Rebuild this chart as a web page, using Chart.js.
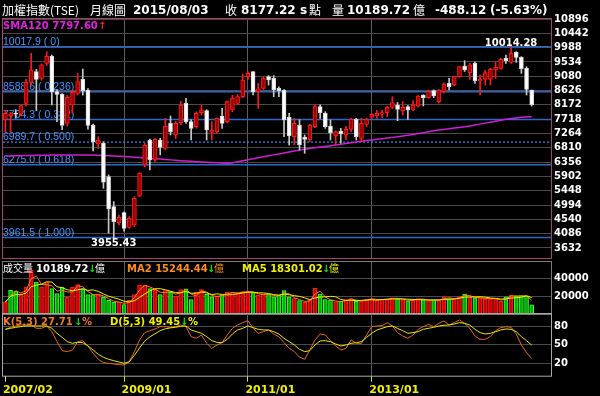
<!DOCTYPE html>
<html>
<head>
<meta charset="utf-8">
<title>加權指數 月線圖</title>
<script src="https://cdn.jsdelivr.net/npm/chart.js@4.4.1/dist/chart.umd.min.js"></script>
<style>
  html, body { margin: 0; padding: 0; background: #000; }
  #box { position: relative; width: 600px; height: 396px; background: #000; overflow: hidden; }
  #box canvas { position: absolute; left: 0; }
  .t { position: absolute; white-space: nowrap; line-height: 1; font-family: 'DejaVu Sans', sans-serif; }
  .b { font-weight: bold; }
  .cjk { font-family: 'Noto Sans CJK TC', sans-serif; }
</style>
</head>
<body>
<div id="box">
  <canvas id="main" width="600" height="270" style="top:0"></canvas>
  <canvas id="vol" width="600" height="74" style="top:250px"></canvas>
  <canvas id="kd" width="600" height="94" style="top:302px"></canvas>

  <span class="t cjk" style="left:2px;top:4px;font-size:12px;color:#fff">加權指數(TSE)</span>
  <span class="t cjk" style="left:90px;top:4px;font-size:12px;color:#fff">月線圖</span>
  <span class="t b" style="left:133px;top:4px;font-size:12px;color:#fff">2015/08/03</span>
  <span class="t cjk" style="left:225px;top:4px;font-size:12px;color:#fff">收</span>
  <span class="t b" style="left:241px;top:4px;font-size:12px;color:#fff">8177.22</span>
  <span class="t b" style="left:300px;top:4px;font-size:12px;color:#fff">s</span>
  <span class="t cjk" style="left:309px;top:4px;font-size:12px;color:#fff">點</span>
  <span class="t cjk" style="left:332px;top:4px;font-size:12px;color:#fff">量</span>
  <span class="t b" style="left:347px;top:4px;font-size:12px;color:#fff">10189.72</span>
  <span class="t cjk" style="left:413px;top:4px;font-size:12px;color:#fff">億</span>
  <span class="t b" style="left:435px;top:4px;font-size:12px;color:#fff">-488.12</span>
  <span class="t b" style="left:490px;top:4px;font-size:12px;color:#fff">(-5.63%)</span>

  <span class="t b" style="left:3px;top:21px;font-size:10px;color:#e020e0">SMA120 7797.60</span>
  <span class="t b" style="left:98px;top:21px;font-size:10px;color:#ff2020">↑</span>

  <span class="t cjk" style="left:3px;top:263px;font-size:10px;color:#fff">成交量</span>
  <span class="t b" style="left:36px;top:264px;font-size:10px;color:#fff">10189.72</span>
  <span class="t b" style="left:88px;top:264px;font-size:10px;color:#10e010">↓</span>
  <span class="t cjk" style="left:95px;top:263px;font-size:10px;color:#fff">億</span>
  <span class="t b" style="left:127px;top:264px;font-size:10px;color:#ff8c1a">MA2 15244.44</span>
  <span class="t b" style="left:207px;top:264px;font-size:10px;color:#10e010">↓</span>
  <span class="t cjk" style="left:214px;top:263px;font-size:10px;color:#ff8c1a">億</span>
  <span class="t b" style="left:242px;top:264px;font-size:10px;color:#f0f000">MA5 18301.02</span>
  <span class="t b" style="left:322px;top:264px;font-size:10px;color:#10e010">↓</span>
  <span class="t cjk" style="left:329px;top:263px;font-size:10px;color:#f0f000">億</span>

  <span class="t b" style="left:3px;top:317px;font-size:10px;color:#f07828">K(5,3) 27.71</span>
  <span class="t b" style="left:74px;top:317px;font-size:10px;color:#10e010">↓</span>
  <span class="t b" style="left:82px;top:317px;font-size:10px;color:#f07828">%</span>
  <span class="t b" style="left:110px;top:317px;font-size:10px;color:#f0f000">D(5,3) 49.45</span>
  <span class="t b" style="left:180px;top:317px;font-size:10px;color:#10e010">↓</span>
  <span class="t b" style="left:188px;top:317px;font-size:10px;color:#f0f000">%</span>
</div>

<script>
// monthly candles 2007/02 - 2015/08
const months = [
  '2007/02','2007/03','2007/04','2007/05','2007/06','2007/07','2007/08','2007/09','2007/10','2007/11','2007/12',
  '2008/01','2008/02','2008/03','2008/04','2008/05','2008/06','2008/07','2008/08','2008/09','2008/10','2008/11','2008/12',
  '2009/01','2009/02','2009/03','2009/04','2009/05','2009/06','2009/07','2009/08','2009/09','2009/10','2009/11','2009/12',
  '2010/01','2010/02','2010/03','2010/04','2010/05','2010/06','2010/07','2010/08','2010/09','2010/10','2010/11','2010/12',
  '2011/01','2011/02','2011/03','2011/04','2011/05','2011/06','2011/07','2011/08','2011/09','2011/10','2011/11','2011/12',
  '2012/01','2012/02','2012/03','2012/04','2012/05','2012/06','2012/07','2012/08','2012/09','2012/10','2012/11','2012/12',
  '2013/01','2013/02','2013/03','2013/04','2013/05','2013/06','2013/07','2013/08','2013/09','2013/10','2013/11','2013/12',
  '2014/01','2014/02','2014/03','2014/04','2014/05','2014/06','2014/07','2014/08','2014/09','2014/10','2014/11','2014/12',
  '2015/01','2015/02','2015/03','2015/04','2015/05','2015/06','2015/07','2015/08'
];

const opens = [
  7700, 7820, 7905, 7875, 8220, 8883, 9230, 9010, 9490, 9711,
  8590, 8506, 7586, 8167, 8537, 8982, 8643, 7533, 6930, 6951,
  5893, 4941, 4434, 4751, 4286, 4360, 5280, 6264, 7057, 6422,
  7057, 6792, 7586, 7216, 7607, 8220, 7639, 7480, 7924, 7987,
  7300, 7321, 7818, 7639, 8009, 8220, 8432, 9066, 9225, 8590,
  8696, 9066, 9013, 8700, 8643, 7776, 7162, 7533, 7141, 7057,
  7480, 8114, 7903, 7501, 7184, 7342, 7215, 7395, 7712, 7110,
  7554, 7776, 7818, 7880, 7924, 8093, 8167, 7987, 8114, 8009,
  8136, 8484, 8400, 8622, 8273, 8590, 8855, 8802, 9066, 9405,
  9193, 9489, 8939, 8982, 8982, 9278, 9331, 9648, 9521, 9838,
  9680, 9331, 8643
];
const highs = [
  7999, 7935, 8020, 8180, 8980, 9807, 9300, 9470, 9859, 9750,
  8650, 8528, 8475, 8643, 9172, 9309, 8690, 7560, 7163, 7000,
  5950, 5100, 4677, 4780, 4625, 5260, 6020, 6950, 7084, 7110,
  7110, 7744, 7818, 7650, 8273, 8379, 7700, 7950, 8170, 8020,
  7640, 7760, 8060, 8300, 8480, 8500, 9150, 9220, 9230, 8855,
  9060, 9100, 9100, 8740, 8660, 7903, 7744, 7700, 7215, 7560,
  8170, 8170, 7956, 7691, 7350, 7427, 7490, 7744, 7744, 7744,
  7744, 7903, 8000, 8000, 8130, 8431, 8250, 8273, 8150, 8305,
  8470, 8495, 8640, 8650, 8660, 8870, 9013, 9080, 9400, 9574,
  9489, 9540, 9119, 9270, 9331, 9521, 9650, 9754, 10014.28, 9860,
  9701, 9384, 8643
];
const lows = [
  7306, 7320, 7750, 7820, 8140, 8800, 7986, 8950, 9420, 8167,
  7640, 7384, 7500, 7903, 8480, 8480, 7400, 6708, 6793, 5523,
  4096, 3955.43, 4360, 4164, 4254, 4308, 5260, 6200, 6105, 6370,
  6581, 6740, 7216, 7100, 7540, 7580, 7057, 7430, 7850, 7057,
  7057, 7280, 7427, 7600, 7950, 8180, 8400, 8980, 8485, 8062,
  8660, 8800, 8430, 8430, 7162, 6898, 6898, 6739, 6634, 7000,
  7450, 7744, 7427, 7057, 6898, 6951, 7057, 7320, 7057, 7004,
  7480, 7744, 7744, 7760, 7800, 8050, 7670, 7850, 7712, 7987,
  8100, 8136, 8379, 8400, 8230, 8540, 8643, 8780, 9050, 9230,
  8982, 8855, 8484, 8802, 8802, 9013, 9299, 9489, 9489, 9521,
  9172, 8484, 8136
];
const closes = [
  7901, 7884, 7875, 8145, 8883, 9287, 8982, 9440, 9711, 8586,
  8506, 7521, 8412, 8572, 8908, 8619, 7523, 7004, 7046, 5719,
  4870, 4466, 4603, 4248, 4571, 5206, 6000, 6898, 6422, 7078,
  6824, 7501, 7321, 7586, 8167, 7639, 7427, 7903, 8009, 7374,
  7360, 7744, 7586, 8273, 8379, 8432, 8960, 9172, 8590, 8683,
  9014, 8960, 8653, 8622, 7691, 7184, 7585, 6898, 7078, 7533,
  8114, 7924, 7480, 7289, 7321, 7247, 7395, 7712, 7162, 7585,
  7712, 7871, 7903, 7924, 8093, 8241, 8030, 8093, 8009, 8167,
  8453, 8400, 8590, 8453, 8643, 8834, 8749, 9066, 9384, 9278,
  9436, 8939, 8982, 9193, 9299, 9362, 9616, 9574, 9807, 9680,
  9323, 8665.34, 8177.22
];
const sma120 = [
  6549, 6552, 6556, 6560, 6563, 6566, 6569, 6572, 6575, 6578,
  6580, 6582, 6583, 6583, 6583, 6582, 6580, 6577, 6573, 6568,
  6560, 6552, 6543, 6533, 6522, 6510, 6498, 6486, 6474, 6462,
  6450, 6438, 6426, 6414, 6402, 6390, 6379, 6368, 6358, 6349,
  6341, 6334, 6328, 6322, 6330, 6370, 6400, 6430, 6460, 6495,
  6525, 6555, 6585, 6615, 6645, 6675, 6705, 6735, 6765, 6787,
  6810, 6832, 6853, 6874, 6895, 6918, 6942, 6966, 6990, 7015,
  7040, 7060, 7080, 7100, 7120, 7140, 7160, 7180, 7205, 7232,
  7260, 7290, 7320, 7350, 7372, 7393, 7414, 7436, 7457, 7478,
  7500, 7530, 7560, 7592, 7623, 7654, 7685, 7712, 7737, 7758,
  7775, 7788, 7797.6
];
const volumes = [
  13300, 26300, 25200, 21500, 30000, 48500, 35600, 30000, 34900, 28200,
  22700, 30000, 18900, 30000, 32700, 28200, 21500, 21500, 21500, 18900,
  15200, 13300, 13300, 10400, 15200, 21500, 31900, 31900, 28200, 27000,
  21500, 26000, 24000, 20000, 27000, 28000, 16000, 24000, 27000, 22000,
  19000, 20000, 21000, 24000, 24000, 23000, 25000, 25000, 24000, 21000,
  22000, 22000, 19000, 21000, 26000, 19000, 17000, 15000, 13000, 16000,
  28500, 22000, 16000, 15500, 13500, 14000, 16000, 17000, 14000, 15000,
  16000, 17000, 15500, 16500, 16500, 18000, 17000, 16000, 14500, 15500,
  17000, 16000, 15000, 15500, 15000, 19000, 17000, 17000, 19000, 22000,
  19000, 18000, 18000, 16500, 17500, 17000, 14000, 19000, 21000, 19500,
  20516, 20299.16, 10189.72
];
const kValues = [
  75.2, 78.4, 80.6, 82.2, 82.2, 82.2, 76.8, 76.8, 80.6, 71.4,
  55.2, 40.6, 39, 41.7, 55.2, 56.8, 48.2, 36.3, 26.6, 21.2,
  20.1, 19, 17.9, 17.4, 22.8, 39, 57.9, 69.8, 73, 75.7,
  79.5, 79.5, 78.4, 79.5, 82.2, 79.5, 63.3, 60.6, 66, 52.5,
  44.4, 49.8, 53.6, 66, 76.8, 82.2, 86, 89.2, 76.8, 68.7,
  71.4, 74.1, 67.6, 63.3, 53.6, 44.4, 39, 30, 26.6, 41.7,
  57.9, 67.6, 66, 56.8, 48.2, 41.7, 44.4, 57.9, 52.5, 52.5,
  66, 79.5, 80.6, 81.1, 86, 80.6, 69.8, 64.4, 60.6, 66,
  75.2, 79.5, 83.3, 79.5, 84.9, 88.7, 82.2, 86, 90.3, 84.9,
  76.8, 64.4, 59, 59, 63.3, 73, 77.9, 79.5, 78.4, 67.6,
  49.8, 37.4, 27.71
];
const dValues = [
  75.2, 76.8, 78.4, 79.5, 80.6, 80.6, 80.6, 80.6, 80.6, 76.8,
  68.7, 62.2, 55.2, 52.5, 54.1, 53.6, 48.2, 41.7, 34.7, 29.8,
  26.6, 24.4, 22.3, 20.1, 22.5, 33, 45, 56, 63, 68,
  73, 76, 77.5, 78.5, 80, 80.6, 74.1, 71.4, 68.7, 63.3,
  56.8, 54.1, 53.6, 59, 67.6, 74.1, 76.8, 80.6, 77.9, 75.2,
  74.1, 74.1, 71.4, 67.6, 60.6, 55.2, 49.8, 42.8, 39, 40.6,
  49.8, 56.3, 56.8, 55.2, 51.4, 48.2, 49.8, 52.5, 53.6, 55.2,
  62.2, 68.7, 74.1, 76.8, 79.5, 80.6, 76.8, 73, 68.7, 69.8,
  71.4, 75.2, 76.8, 78.4, 80.6, 81.7, 82.2, 83.8, 86, 84.9,
  82.2, 75.2, 69.8, 67.6, 68.7, 71.4, 74.1, 75.7, 75.2, 71.4,
  63.3, 56.8, 49.45
];

const priceTicks = [10896, 10442, 9988, 9534, 9080, 8626, 8172, 7718, 7264, 6810, 6356, 5902, 5448, 4994, 4540, 4086, 3632];
const volTicks = [40000, 20000];
const kdTicks = [80, 50, 20];
const xTickLabels = ['2007/02', '2009/01', '2011/01', '2013/01'];
const fibLevels = [10017.9, 8588.6, 7704.3, 6989.7, 6275.0, 3961.5];
const fibRatios = ['0', '0.236', '0.382', '0.500', '0.618', '1.000'];

const X_MIN = -0.465, X_MAX = 105.74;
const xTickIdx = xTickLabels.map(l => months.indexOf(l));
const FONT = 'DejaVu Sans';
Chart.defaults.font.family = FONT;

const isUp = opens.map((o, i) => closes[i] >= o);
const volUp = closes.map((c, i) => i === 0 ? true : c >= closes[i - 1]);

function movingAvg(arr, n) {
  return arr.map((v, i) => {
    const s = arr.slice(Math.max(0, i - n + 1), i + 1);
    return s.reduce((a, b) => a + b, 0) / s.length;
  });
}

function xAxis(showLabels) {
  return {
    type: 'linear', min: X_MIN, max: X_MAX, offset: false,
    afterBuildTicks: s => { s.ticks = xTickIdx.map(v => ({ value: v })); },
    afterFit: s => { s.height = showLabels ? 20.3 : 0; },
    grid: {
      offset: false,
      color: c => (c.tick && c.tick.value === 0) ? 'rgba(0,0,0,0)' : '#5e5e5e',
      drawTicks: showLabels, tickLength: 6, tickColor: '#e8e800'
    },
    border: { display: false },
    ticks: {
      display: showLabels, autoSkip: false, maxRotation: 0, align: 'start',
      labelOffset: -2.5, padding: 2, color: '#f0f000',
      font: { family: FONT, weight: 'bold', size: 11 },
      callback: (v, i) => xTickLabels[i]
    }
  };
}
function yAxis(min, max, ticks) {
  return {
    position: 'right', min: min, max: max,
    afterBuildTicks: s => { s.ticks = ticks.map(v => ({ value: v })); },
    afterFit: s => { s.width = 49; },
    grid: { color: '#4a4a4a', drawTicks: false },
    border: { display: false },
    ticks: {
      autoSkip: false, padding: 3, color: '#ffffff',
      font: { family: FONT, weight: 'bold', size: 10 },
      callback: v => String(v)
    }
  };
}
function frame(color) {
  return {
    id: 'frame',
    afterDraw(chart) {
      const { ctx, chartArea: a } = chart;
      ctx.save();
      ctx.strokeStyle = color;
      ctx.lineWidth = 1;
      ctx.strokeRect(a.left - 0.5, a.top - 0.5, a.right - a.left + 1, a.bottom - a.top + 1);
      ctx.restore();
    }
  };
}
const base = {
  responsive: false, animation: false, events: [],
  plugins: { legend: { display: false }, tooltip: { enabled: false } }
};

// fibonacci lines and high / low marks on the price panel
const mainDecor = {
  id: 'mainDecor',
  beforeDatasetsDraw(chart) {
    const { ctx, chartArea: a, scales: { y } } = chart;
    ctx.save();
    fibLevels.forEach((lv, i) => {
      const py = y.getPixelForValue(lv);
      ctx.strokeStyle = i === 3 ? '#2f8cff' : '#2d68c8';
      ctx.lineWidth = i === 3 ? 1.2 : 1.5;
      ctx.setLineDash(i === 3 ? [2, 2] : []);
      ctx.beginPath(); ctx.moveTo(a.left, py); ctx.lineTo(a.right, py); ctx.stroke();
      ctx.setLineDash([]);
      ctx.fillStyle = '#4396ff';
      ctx.font = '10.5px "Liberation Sans"';
      ctx.textAlign = 'left';
      ctx.textBaseline = 'alphabetic';
      ctx.fillText(lv.toFixed(1) + ' ( ' + fibRatios[i] + ')', a.left, py - 2);
    });
    ctx.restore();
  },
  afterDatasetsDraw(chart) {
    const { ctx, scales: { x, y } } = chart;
    const hi = Math.max(...highs), lo = Math.min(...lows);
    ctx.save();
    ctx.fillStyle = '#ffffff';
    ctx.font = 'bold 10px "DejaVu Sans"';
    ctx.textAlign = 'center';
    ctx.textBaseline = 'alphabetic';
    ctx.fillText(hi.toFixed(2), x.getPixelForValue(highs.indexOf(hi)), y.getPixelForValue(hi) - 1);
    ctx.fillText(lo.toFixed(2), x.getPixelForValue(lows.indexOf(lo)), y.getPixelForValue(lo) + 8.5);
    ctx.restore();
  }
};

new Chart(document.getElementById('main'), {
  type: 'bar',
  data: {
    datasets: [
      {
        type: 'bar', order: 0, grouped: false, barThickness: 4, minBarLength: 1,
        data: opens.map((o, i) => ({ x: i, y: [o, closes[i]] })),
        backgroundColor: isUp.map(u => u ? '#a00000' : '#ffffff'),
        borderColor: isUp.map(u => u ? '#ff1a1a' : '#d8d8d8'),
        borderWidth: 1, borderSkipped: false
      },
      {
        type: 'bar', order: 1, grouped: false, barThickness: 1,
        data: lows.map((l, i) => ({ x: i, y: [l, highs[i]] })),
        backgroundColor: isUp.map(u => u ? '#ff1a1a' : '#c8c8c8')
      },
      {
        type: 'line', order: 2,
        data: sma120.map((v, i) => ({ x: i, y: v })),
        borderColor: '#d21ed2', borderWidth: 1.5, pointRadius: 0, tension: 0
      }
    ]
  },
  options: Object.assign({}, base, {
    layout: { padding: { left: 3, right: 0, top: 19, bottom: 12 } },
    scales: { x: xAxis(false), y: yAxis(3312.5, 10896, priceTicks) }
  }),
  plugins: [mainDecor, frame('#a8406e')]
});

new Chart(document.getElementById('vol'), {
  type: 'bar',
  data: {
    datasets: [
      {
        type: 'line', order: 0,
        data: movingAvg(volumes, 5).map((v, i) => ({ x: i, y: v })),
        borderColor: '#f0f000', borderWidth: 1, pointRadius: 0, tension: 0
      },
      {
        type: 'line', order: 1,
        data: movingAvg(volumes, 2).map((v, i) => ({ x: i, y: v })),
        borderColor: '#ff7a1a', borderWidth: 1, pointRadius: 0, tension: 0
      },
      {
        type: 'bar', order: 2, grouped: false, barThickness: 4,
        data: volumes.map((v, i) => ({ x: i, y: v })),
        backgroundColor: volUp.map(u => u ? '#d00000' : '#00b000'),
        borderColor: volUp.map(u => u ? '#ff2020' : '#30ff30'),
        borderWidth: 1, borderSkipped: false
      }
    ]
  },
  options: Object.assign({}, base, {
    layout: { padding: { left: 3, right: 0, top: 12, bottom: 10 } },
    scales: { x: xAxis(false), y: yAxis(0, 57778, volTicks) }
  }),
  plugins: [frame('#7a7a7a')]
});

new Chart(document.getElementById('kd'), {
  type: 'line',
  data: {
    datasets: [
      {
        data: dValues.map((v, i) => ({ x: i, y: v })),
        borderColor: '#e8e800', borderWidth: 1, pointRadius: 0, tension: 0
      },
      {
        data: kValues.map((v, i) => ({ x: i, y: v })),
        borderColor: '#e8661e', borderWidth: 1, pointRadius: 0, tension: 0
      }
    ]
  },
  options: Object.assign({}, base, {
    layout: { padding: { left: 3, right: 0, top: 12, bottom: 0 } },
    scales: { x: xAxis(true), y: yAxis(0, 100, kdTicks) }
  }),
  plugins: [frame('#a8a8a8')]
});
</script>
</body>
</html>
